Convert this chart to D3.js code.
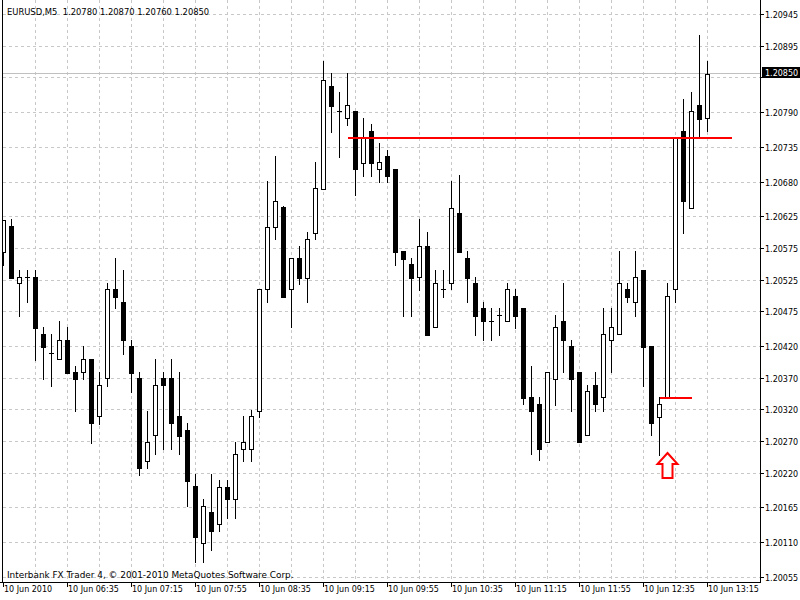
<!DOCTYPE html>
<html><head><meta charset="utf-8">
<script src="https://cdn.jsdelivr.net/npm/d3@7"></script>
<style>
body{margin:0;background:#fff}
svg{display:block}
text{font-family:"DejaVu Sans",sans-serif;font-size:8px;fill:#000}
</style>
</head><body>
<svg id="chart" width="800" height="600"></svg>
<script>
// ---------- data ----------
const headerText = "EURUSD,M5  1.20780 1.20870 1.20760 1.20850";
const footerText = "Interbank FX Trader 4, \u00A9 2001-2010 MetaQuotes Software Corp.";

const opens  = [1.20569,1.20610,1.20519,1.20529,1.20529,1.20439,1.20409,1.20399,1.20429,1.20379,
                1.20379,1.20399,1.20309,1.20369,1.20510,1.20489,1.20420,1.20370,1.20238,1.20279,
                1.20370,1.20370,1.20310,1.20288,1.20199,1.20108,1.20157,1.20138,1.20198,1.20178,
                1.20258,1.20258,1.20318,1.20510,1.20609,1.20640,1.20510,1.20559,1.20528,1.20599,
                1.20669,1.20831,1.20791,1.20780,1.20791,1.20710,1.20760,1.20700,1.20721,1.20700,
                1.20570,1.20550,1.20529,1.20579,1.20450,1.20510,1.20519,1.20630,1.20559,1.20519,
                1.20480,1.20459,1.20469,1.20459,1.20499,1.20480,1.20340,1.20328,1.20268,1.20368,
                1.20460,1.20420,1.20379,1.20279,1.20359,1.20339,1.20429,1.20439,1.20510,1.20489,
                1.20540,1.20420,1.20308,1.20340,1.20510,1.20760,1.20639,1.20801,1.20780];
const highs  = [1.20620,1.20621,1.20540,1.20540,1.20540,1.20450,1.20439,1.20460,1.20450,1.20389,
                1.20420,1.20399,1.20379,1.20520,1.20559,1.20540,1.20430,1.20379,1.20318,1.20400,
                1.20379,1.20400,1.20379,1.20298,1.20218,1.20178,1.20218,1.20208,1.20208,1.20268,
                1.20310,1.20319,1.20510,1.20681,1.20721,1.20641,1.20559,1.20579,1.20600,1.20711,
                1.20871,1.20852,1.20822,1.20852,1.20791,1.20781,1.20771,1.20741,1.20730,1.20700,
                1.20570,1.20560,1.20621,1.20600,1.20540,1.20540,1.20681,1.20690,1.20570,1.20529,
                1.20489,1.20480,1.20480,1.20519,1.20510,1.20480,1.20389,1.20339,1.20379,1.20469,
                1.20520,1.20430,1.20379,1.20359,1.20379,1.20480,1.20480,1.20570,1.20520,1.20570,
                1.20540,1.20420,1.20340,1.20519,1.20751,1.20811,1.20822,1.20912,1.20870];
const lows   = [1.20549,1.20527,1.20468,1.20489,1.20398,1.20368,1.20357,1.20399,1.20378,1.20318,
                1.20368,1.20267,1.20297,1.20357,1.20480,1.20408,1.20348,1.20217,1.20228,1.20249,
                1.20258,1.20258,1.20249,1.20168,1.20078,1.20078,1.20098,1.20128,1.20148,1.20148,
                1.20238,1.20238,1.20308,1.20489,1.20589,1.20497,1.20450,1.20518,1.20489,1.20589,
                1.20669,1.20759,1.20719,1.20770,1.20659,1.20689,1.20689,1.20680,1.20680,1.20549,
                1.20468,1.20468,1.20509,1.20438,1.20450,1.20498,1.20510,1.20569,1.20489,1.20438,
                1.20429,1.20429,1.20438,1.20459,1.20449,1.20328,1.20249,1.20240,1.20268,1.20327,
                1.20379,1.20318,1.20268,1.20279,1.20318,1.20318,1.20379,1.20439,1.20490,1.20468,
                1.20357,1.20279,1.20248,1.20340,1.20489,1.20599,1.20639,1.20751,1.20760];
const closes = [1.20620,1.20528,1.20529,1.20529,1.20449,1.20419,1.20409,1.20429,1.20378,1.20368,
                1.20399,1.20298,1.20358,1.20510,1.20498,1.20429,1.20378,1.20228,1.20268,1.20358,
                1.20358,1.20298,1.20278,1.20207,1.20118,1.20168,1.20127,1.20198,1.20178,1.20249,
                1.20268,1.20310,1.20510,1.20609,1.20650,1.20498,1.20559,1.20528,1.20589,1.20670,
                1.20840,1.20800,1.20791,1.20801,1.20700,1.20751,1.20710,1.20711,1.20689,1.20569,
                1.20558,1.20528,1.20579,1.20438,1.20519,1.20510,1.20639,1.20569,1.20528,1.20468,
                1.20459,1.20459,1.20469,1.20510,1.20468,1.20338,1.20318,1.20258,1.20379,1.20450,
                1.20429,1.20368,1.20268,1.20349,1.20328,1.20439,1.20450,1.20520,1.20498,1.20529,
                1.20419,1.20298,1.20328,1.20499,1.20751,1.20650,1.20792,1.20779,1.20850];

const priceTicks = [1.20945,1.20895,1.20845,1.20790,1.20735,1.20680,1.20625,1.20575,1.20525,
                    1.20475,1.20420,1.20370,1.20320,1.20270,1.20220,1.20165,1.20110,1.20055];
const timeTickBars   = [0,8,16,24,32,40,48,56,64,72,80,88];
const timeTickLabels = ["10 Jun 2010","10 Jun 06:35","10 Jun 07:15","10 Jun 07:55","10 Jun 08:35",
                        "10 Jun 09:15","10 Jun 09:55","10 Jun 10:35","10 Jun 11:15","10 Jun 11:55",
                        "10 Jun 12:35","10 Jun 13:15"];
const gridEveryBars = 4;
const bidPrice = 1.20850;
const levelPrices = [1.20750, 1.20340];
const levelFrom   = [43, 82];
const levelTo     = [91, 86];
const arrowBars   = [83];
const arrowPrices = [1.20251];

// ---------- drawing ----------
const svg = d3.select("#chart");
const W = 800, H = 600;
const plotLeft = 3, plotRight = 760, plotBottom = 582;

const n = closes.length;
const x = d3.scaleLinear().domain([0, n - 1]).range([3.5, 3.5 + 8 * (n - 1)]);
const y = d3.scaleLinear().domain([1.20055, 1.20945]).range([577, 14]);
const ry = p => Math.round(y(p));

svg.append("rect").attr("width", W).attr("height", H).attr("fill", "#fff");

const defs = svg.append("defs");
defs.append("clipPath").attr("id", "plotclip").append("rect")
  .attr("x", plotLeft).attr("y", 0).attr("width", plotRight - plotLeft).attr("height", plotBottom);

const grid = svg.append("g").attr("shape-rendering", "crispEdges");
grid.selectAll("line.h").data(priceTicks).join("line")
  .attr("x1", plotLeft).attr("x2", plotRight)
  .attr("y1", d => ry(d) + 0.5).attr("y2", d => ry(d) + 0.5)
  .attr("stroke", "#c8c8c8").attr("stroke-dasharray", "3,3");
const vBars = d3.range(gridEveryBars, n, gridEveryBars);
grid.selectAll("line.v").data(vBars).join("line")
  .attr("x1", d => x(d)).attr("x2", d => x(d))
  .attr("y1", 0).attr("y2", plotBottom)
  .attr("stroke", "#c8c8c8").attr("stroke-dasharray", "3,3");

// bid line
svg.append("line").attr("shape-rendering", "crispEdges")
  .attr("x1", plotLeft).attr("x2", plotRight)
  .attr("y1", ry(bidPrice) - 0.5).attr("y2", ry(bidPrice) - 0.5)
  .attr("stroke", "#c0c0c0");

// candles
const plot = svg.append("g").attr("clip-path", "url(#plotclip)").attr("shape-rendering", "crispEdges");
const bars = d3.range(n).map(i => ({i, o: opens[i], h: highs[i], l: lows[i], c: closes[i]}));
const cg = plot.selectAll("g.candle").data(bars).join("g");
cg.append("rect")
  .attr("x", d => x(d.i) - 0.5).attr("width", 1)
  .attr("y", d => ry(d.h)).attr("height", d => ry(d.l) - ry(d.h) + 1)
  .attr("fill", "#000");
cg.each(function(d) {
  const g = d3.select(this);
  const top = ry(Math.max(d.o, d.c)), bot = ry(Math.min(d.o, d.c));
  const x0 = x(d.i) - 2.5;
  if (top === bot) {
    g.append("rect").attr("x", x0).attr("y", top).attr("width", 5).attr("height", 1).attr("fill", "#000");
  } else if (d.c > d.o) {
    g.append("rect").attr("x", x0 + 0.5).attr("y", top + 0.5).attr("width", 4).attr("height", bot - top)
      .attr("fill", "#fff").attr("stroke", "#000").attr("stroke-width", 1);
  } else {
    g.append("rect").attr("x", x0).attr("y", top).attr("width", 5).attr("height", bot - top + 1).attr("fill", "#000");
  }
});

// level lines (red)
const lv = d3.range(levelPrices.length);
plot.selectAll("line.lvl").data(lv).join("line")
  .attr("x1", k => x(levelFrom[k])).attr("x2", k => x(levelTo[k]))
  .attr("y1", k => ry(levelPrices[k]) + 0.5).attr("y2", k => ry(levelPrices[k]) + 0.5)
  .attr("stroke", "#ff0000").attr("stroke-width", 2);

// arrows
plot.selectAll("path.arrow").data(d3.range(arrowBars.length)).join("path")
  .attr("transform", k => `translate(${x(arrowBars[k])},${ry(arrowPrices[k])})`)
  .attr("d", "M0,0 L10,11 L5,11 L5,25 L-5,25 L-5,11 L-10,11 Z")
  .attr("fill", "#fff").attr("stroke", "#ff0000").attr("stroke-width", 2)
  .attr("shape-rendering", "auto");

// frame lines
const frame = svg.append("g").attr("shape-rendering", "crispEdges").attr("stroke", "#000");
frame.append("line").attr("x1", 2.5).attr("x2", 2.5).attr("y1", 0).attr("y2", plotBottom);
frame.append("line").attr("x1", plotRight + 0.5).attr("x2", plotRight + 0.5).attr("y1", 0).attr("y2", plotBottom + 1);
frame.append("line").attr("x1", 0).attr("x2", plotRight + 1).attr("y1", plotBottom + 0.5).attr("y2", plotBottom + 0.5);

// price axis ticks & labels (the label under the bid box is hidden, as in the terminal)
frame.selectAll("line.pt").data(priceTicks).join("line")
  .attr("x1", plotRight + 1).attr("x2", plotRight + 4)
  .attr("y1", d => ry(d) + 0.5).attr("y2", d => ry(d) + 0.5);
const by = ry(bidPrice);
svg.append("g").selectAll("text").data(priceTicks.filter(d => Math.abs(ry(d) - by) > 8)).join("text")
  .attr("x", 765).attr("y", d => ry(d) + 3.5)
  .text(d => d.toFixed(5));

// bid box
svg.append("rect").attr("x", 762).attr("y", by - 7).attr("width", 38).attr("height", 11).attr("fill", "#000");
svg.append("text").attr("x", 765).attr("y", by + 2).style("fill", "#fff").text(bidPrice.toFixed(5));

// time axis ticks & labels
frame.selectAll("line.tt").data(timeTickBars).join("line")
  .attr("x1", d => x(d)).attr("x2", d => x(d))
  .attr("y1", plotBottom + 1).attr("y2", plotBottom + 5);
svg.append("g").selectAll("text").data(timeTickBars).join("text")
  .attr("x", d => x(d) + 0.5).attr("y", 592)
  .text((d, k) => timeTickLabels[k]);

// header & footer
svg.append("text").attr("x", 7).attr("y", 15).attr("xml:space", "preserve")
  .style("white-space", "pre").style("font-size", "8.4px").text(headerText);
svg.append("text").attr("x", 7).attr("y", 578).style("font-size", "8.9px").text(footerText);
</script>
</body></html>
